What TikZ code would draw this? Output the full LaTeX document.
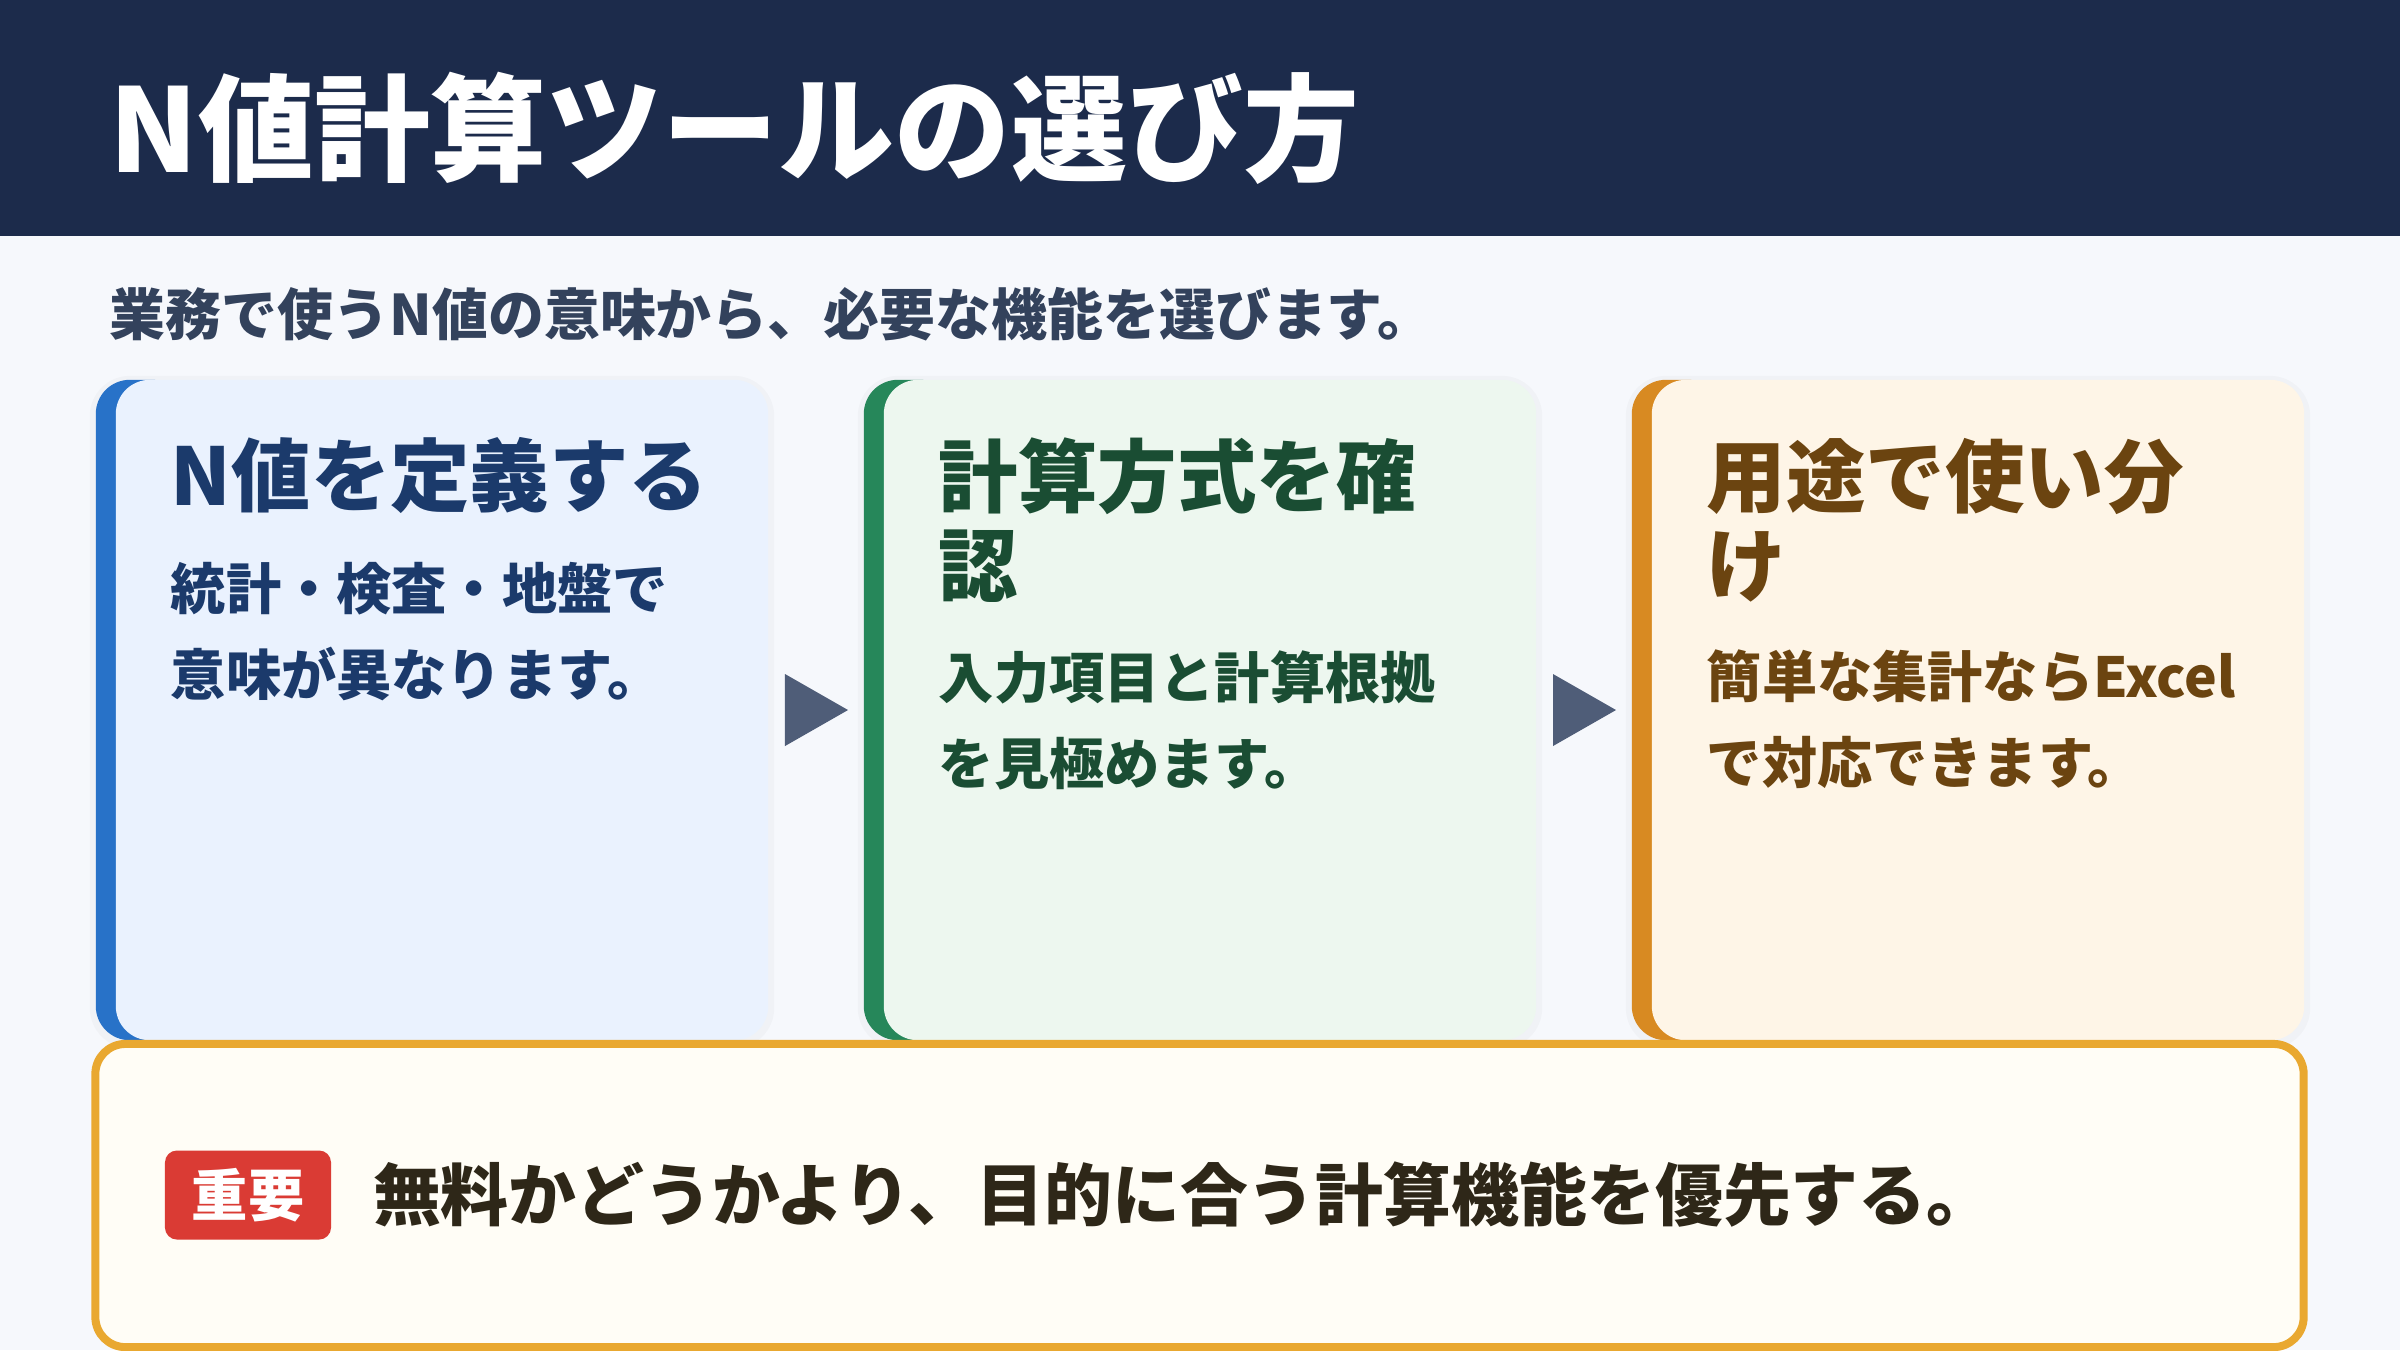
\documentclass[tikz,border=0pt]{standalone}
\usepackage{fontspec}
\setmainfont{Noto Sans CJK JP}
\usetikzlibrary{positioning, calc}

\definecolor{headnavy}{HTML}{1C2B4B}
\definecolor{pagebg}{HTML}{F6F8FC}
\definecolor{subgray}{HTML}{33425C}
\definecolor{blueedge}{HTML}{2872C8}
\definecolor{bluefill}{HTML}{EAF2FE}
\definecolor{bluetext}{HTML}{1B3A6B}
\definecolor{greenedge}{HTML}{26875A}
\definecolor{greenfill}{HTML}{EDF7EF}
\definecolor{greentext}{HTML}{1A4D33}
\definecolor{orangeedge}{HTML}{D88A22}
\definecolor{orangefill}{HTML}{FEF5E7}
\definecolor{orangetext}{HTML}{6B4410}
\definecolor{arrowgray}{HTML}{4F5D78}
\definecolor{notefill}{HTML}{FFFDF6}
\definecolor{noteedge}{HTML}{E9A830}
\definecolor{badgered}{HTML}{DA3B34}
\definecolor{notetext}{HTML}{2E2718}

\begin{document}
\begin{tikzpicture}[
    x=0.01cm, y=-0.01cm,
    every node/.style={inner sep=0pt, outer sep=0pt},
    card/.style={rectangle, minimum width=6.72cm, minimum height=6.6cm},
    cardtitle/.style={anchor=north west, align=left, text width=5.5cm, font=\bfseries\fontsize{22.6}{25.3}\selectfont},
    cardbody/.style={anchor=north west, align=left, text width=5.5cm, font=\bfseries\fontsize{15.7}{24.5}\selectfont}
]

% Page and header band
\fill[pagebg] (0,0) rectangle (2400,1350);
\useasboundingbox (0,0) rectangle (2400,1350);
\fill[headnavy] (0,0) rectangle (2400,236);

% Title and lead text
\node[anchor=west, text=white, font=\bfseries\fontsize{33}{38}\selectfont] (title) at (110,128) {N値計算ツールの選び方};
\node[anchor=west, text=subgray, font=\bfseries\fontsize{15.9}{20}\selectfont] (lead) at (110,314) {業務で使うN値の意味から、必要な機能を選びます。};

% Cards: outline node, faint shadow, edge strip, then fill
\node[card] (c1) at (432,710) {};
\node[card] (c2) at (1200,710) {};
\node[card] (c3) at (1968,710) {};
\foreach \c/\e/\f in {c1/blueedge/bluefill, c2/greenedge/greenfill, c3/orangeedge/orangefill} {
    \fill[black, opacity=0.025, rounded corners=0.4cm] ([xshift=-0.06cm, yshift=-0.08cm]\c.south west) rectangle ([xshift=0.06cm, yshift=0.04cm]\c.north east);
    \fill[\e, rounded corners=0.34cm] (\c.south west) rectangle ([xshift=0.9cm]\c.north west);
    \fill[\f, rounded corners=0.34cm] ([xshift=0.2cm]\c.south west) rectangle (\c.north east);
}

% Card 1
\node[cardtitle, text=bluetext] (t1) at ([xshift=0.75cm, yshift=-0.58cm]c1.north west) {N値を定義する};
\node[cardbody, text=bluetext] (b1) at ([yshift=-0.48cm]t1.south west) {統計・検査・地盤で\\意味が異なります。};

% Card 2
\node[cardtitle, text=greentext] (t2) at ([xshift=0.75cm, yshift=-0.58cm]c2.north west) {計算方式を確\\認};
\node[cardbody, text=greentext] (b2) at ([yshift=-0.48cm]t2.south west) {入力項目と計算根拠\\を見極めます。};

% Card 3
\node[cardtitle, text=orangetext] (t3) at ([xshift=0.75cm, yshift=-0.58cm]c3.north west) {用途で使い分\\け};
\node[cardbody, text=orangetext] (b3) at ([yshift=-0.48cm]t3.south west) {簡単な集計ならExcel\\で対応できます。};

% Step arrows between cards
\foreach \i/\j in {c1/c2, c2/c3} {
    \coordinate (m) at ($(\i.east)!0.5!(\j.west)$);
    \fill[arrowgray] ([xshift=-0.31cm, yshift=0.36cm]m) -- ([xshift=0.32cm]m) -- ([xshift=-0.31cm, yshift=-0.36cm]m) -- cycle;
}

% Note box
\node[rectangle, rounded corners=0.3cm, draw=noteedge, line width=0.08cm, fill=notefill, minimum width=22.07cm, minimum height=3.03cm] (note) at (1199.5,1195.5) {};
\node[rectangle, rounded corners=0.12cm, fill=badgered, text=white, minimum width=1.66cm, minimum height=0.89cm, font=\bfseries\fontsize{16}{18}\selectfont] (badge) at (248,1195) {重要};
\node[right=0.42cm of badge, text=notetext, font=\bfseries\fontsize{19.3}{22}\selectfont] (msg) {無料かどうかより、目的に合う計算機能を優先する。};

\end{tikzpicture}
\end{document}
